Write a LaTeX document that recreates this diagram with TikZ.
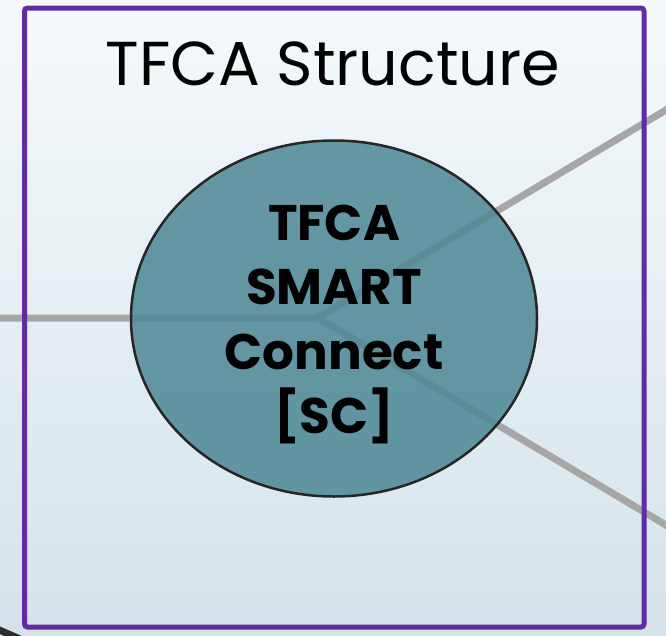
\documentclass[tikz,border=0pt]{standalone}
\usepackage{fontspec}
\setmainfont{Poppins}
\usepackage{xcolor}
\usetikzlibrary{shapes.geometric, positioning}

\definecolor{bgtop}{RGB}{245,249,251}
\definecolor{bgbottom}{RGB}{212,227,233}
\definecolor{framepurple}{RGB}{96,44,160}
\definecolor{linkgray}{RGB}{166,166,166}
\definecolor{scteal}{RGB}{78,136,150}
\definecolor{darkline}{RGB}{45,45,45}

\tikzset{
    link/.style={draw=linkgray, line width=7pt},
    hub/.style={ellipse, draw=black!85, line width=2.5pt, fill=scteal, fill opacity=0.86,
        minimum width=406pt, minimum height=356pt},
    hubtext/.style={align=center, inner sep=0pt,
        font=\fontsize{50}{64.5}\selectfont\bfseries}
}

\begin{document}
\begin{tikzpicture}[x=1pt, y=-1pt]
    \useasboundingbox (0, 0) rectangle (666, 635);
    \clip (0, 0) rectangle (666, 635);
    \fill[top color=bgtop, bottom color=bgbottom] (0, 0) rectangle (666, 635);

    % connectors out of the hub
    \coordinate (center) at (318, 318);
    \coordinate (westend) at (-10, 318);
    \coordinate (northeastend) at (676, 104);
    \coordinate (southeastend) at (676, 531);
    \draw[link] (westend) -- (center) -- (northeastend);
    \draw[link] (center) -- (southeastend);
    \draw[line width=7pt, darkline] (-10, 626) -- (20, 639);

    \draw[framepurple, line width=5pt, rounded corners=3pt] (24.5, 8) rectangle (644, 627);
    \node[anchor=base, font=\fontsize{62}{80}\selectfont] (title) at (333, 85) {TFCA Structure};

    \node[hub] (sc) at (334, 318.5) {};
    \node[hubtext] (sclabel) at ([yshift=-6pt]sc.center) {TFCA\\SMART\\Connect\\{[SC]}};
\end{tikzpicture}
\end{document}
